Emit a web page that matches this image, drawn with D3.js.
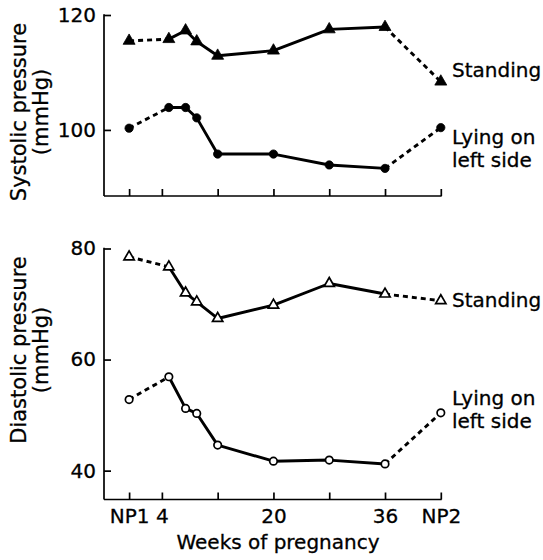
<!DOCTYPE html>
<html>
<head>
<meta charset="utf-8">
<script src="https://cdn.jsdelivr.net/npm/d3@7/dist/d3.min.js"></script>
<style>
  html, body { margin: 0; padding: 0; background: #fff; }
  svg text { font-family: "DejaVu Sans", sans-serif; fill: #000; stroke: #000; stroke-width: 0.3px; }
</style>
</head>
<body>
<div id="chart"></div>
<script>
// Visit positions along the week axis (NP1 / NP2 = non-pregnant visits)
const NP1 = -0.7, NP2 = 44;
const visitWeeks = [NP1, 5, 7.4, 9, 12, 20, 28, 36, NP2];

// Systolic pressure (mmHg)
const systolicStanding = [115.5, 115.8, 117.3, 115.4, 112.9, 113.8, 117.5, 117.9, 108.4];
const systolicLying    = [100.3, 103.9, 103.9, 102.1, 95.8, 95.8, 93.9, 93.3, 100.4];

// Diastolic pressure (mmHg)
const diastolicStanding = [78.5, 76.7, 72.0, 70.4, 67.4, 69.8, 73.7, 71.8, 70.6];
const diastolicLying    = [52.8, 56.9, 51.2, 50.3, 44.6, 41.7, 41.9, 41.2, 50.4];

// Axis ticks
const xTickValues = [NP1, 4, 12, 20, 28, 36, NP2];
const xTickLabels = ["NP1", "4", "", "20", "", "36", "NP2"];
const systolicTicks = [100, 120];
const diastolicTicks = [40, 60, 80];

const W = 543, H = 560;
const svg = d3.select("#chart").append("svg")
  .attr("width", W).attr("height", H);

const x = d3.scaleLinear().domain([-4.3, NP2]).range([104, 440.8]);
const ySys = d3.scaleLinear().domain([88.5, 120]).range([196, 15]);
const yDia = d3.scaleLinear().domain([34.8, 80]).range([499.5, 248.5]);

const FONT = 20;
const TITLE_FONT = 21;
const AXIS_W = 1.7;
const LINE_W = 2.9;

function panel(y, ticks, standing, lying, openMarkers, title, labelY) {
  const g = svg.append("g");
  const [y0, y1] = y.range();

  // y axis with inward ticks
  const yAx = g.append("g").attr("transform", `translate(${x.range()[0]},0)`)
    .call(d3.axisLeft(y).tickValues(ticks).tickSizeInner(-7).tickSizeOuter(0).tickPadding(8));
  yAx.select(".domain").remove();
  yAx.selectAll(".tick line").attr("stroke", "#000").attr("stroke-width", AXIS_W);
  yAx.selectAll(".tick text").style("font-size", FONT + "px").attr("fill", "#000")
    .attr("font-family", "DejaVu Sans");
  g.append("line").attr("x1", x.range()[0]).attr("x2", x.range()[0])
    .attr("y1", y1 - 0.85).attr("y2", y0).attr("stroke", "#000").attr("stroke-width", AXIS_W);

  // x axis with inward ticks
  const xAx = g.append("g").attr("transform", `translate(0,${y0})`)
    .call(d3.axisBottom(x).tickValues(xTickValues).tickSizeInner(-7).tickSizeOuter(0).tickPadding(9)
      .tickFormat((d, i) => openMarkers ? xTickLabels[i] : ""));
  xAx.select(".domain").remove();
  xAx.selectAll(".tick line").attr("stroke", "#000").attr("stroke-width", AXIS_W);
  xAx.selectAll(".tick text").style("font-size", FONT + "px").attr("fill", "#000")
    .attr("font-family", "DejaVu Sans");
  g.append("line").attr("x1", x.range()[0]).attr("x2", x(NP2) + 0.85)
    .attr("y1", y0).attr("y2", y0).attr("stroke", "#000").attr("stroke-width", AXIS_W);

  // rotated two-line y title
  const t = g.append("text")
    .attr("transform", `translate(26,${labelY}) rotate(-90)`)
    .attr("text-anchor", "middle").style("font-size", TITLE_FONT + "px");
  t.append("tspan").attr("x", 0).attr("dy", 0).text(title);
  t.append("tspan").attr("x", 0).attr("dy", 22).text("(mmHg)");

  [standing, lying].forEach((vals, k) => {
    const pts = vals.map((v, i) => [i, v]);
    const lineFrom = (a, b) => d3.line().x(p => x(visitWeeks[p[0]])).y(p => y(p[1]))(pts.slice(a, b));
    // dashed link from NP1, solid through pregnancy, dashed to NP2
    g.append("path").attr("d", lineFrom(0, 2)).attr("fill", "none").attr("stroke", "#000")
      .attr("stroke-width", LINE_W).attr("stroke-dasharray", "5,4");
    g.append("path").attr("d", lineFrom(1, 8)).attr("fill", "none").attr("stroke", "#000")
      .attr("stroke-width", LINE_W).attr("stroke-linejoin", "round");
    g.append("path").attr("d", lineFrom(7, 9)).attr("fill", "none").attr("stroke", "#000")
      .attr("stroke-width", LINE_W).attr("stroke-dasharray", "5,4");

    const isTri = k === 0;
    const sym = d3.symbol().type(isTri ? d3.symbolTriangle : d3.symbolCircle)
      .size(isTri ? (openMarkers ? 46 : 62) : (openMarkers ? 44 : 54));
    g.selectAll(null).data(pts).join("path")
      .attr("transform", p => `translate(${x(visitWeeks[p[0]])},${y(p[1])})`)
      .attr("d", sym)
      .attr("fill", openMarkers ? "#fff" : "#000")
      .attr("stroke", "#000")
      .attr("stroke-width", openMarkers ? 1.7 : 0.8);
  });
}

panel(ySys, systolicTicks, systolicStanding, systolicLying, false, "Systolic pressure", 112);
panel(yDia, diastolicTicks, diastolicStanding, diastolicLying, true, "Diastolic pressure", 350);

// series labels at the right
const labels = [
  { lines: ["Standing"], y: 76.7 },
  { lines: ["Lying on", "left side"], y: 144 },
  { lines: ["Standing"], y: 307.3 },
  { lines: ["Lying on", "left side"], y: 405 }
];
labels.forEach(l => {
  const t = svg.append("text").attr("x", 452).attr("y", l.y).style("font-size", FONT + "px");
  l.lines.forEach((s, i) => t.append("tspan").attr("x", 452).attr("dy", i ? 22.7 : 0).text(s));
});

// x axis title
svg.append("text").attr("x", 278).attr("y", 549).attr("text-anchor", "middle")
  .style("font-size", FONT + "px").text("Weeks of pregnancy");
</script>
</body>
</html>
